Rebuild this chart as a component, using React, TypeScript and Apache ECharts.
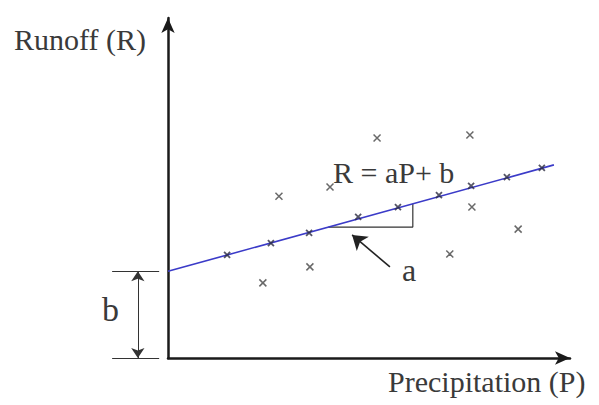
import React, { useEffect, useRef } from "react";
import * as echarts from "echarts";

// Regression line R = aP + b (schematic units)
const slopeA = 0.326;
const interceptB = 2.55;
const lineEndP = 9.6;

// Observations lying on the fitted line
const onLineP = [1.47, 2.56, 3.51, 4.73, 5.72, 6.74, 7.54, 8.43, 9.3];
const onLineR = [3.03, 3.38, 3.68, 4.15, 4.44, 4.79, 5.06, 5.32, 5.59];

// Scattered observations
const scatterP = [5.2, 7.51, 2.76, 4.03, 7.56, 8.71, 7.01, 3.53, 2.36];
const scatterR = [6.47, 6.56, 4.76, 5.03, 4.44, 3.79, 3.06, 2.68, 2.21];

// Slope triangle
const triP = [3.99, 6.09, 6.09];
const triR = [3.85, 3.85, 4.54];

// Pointer arrow to slope label "a"
const arrowAFrom = [5.52, 2.68];
const arrowATo = [4.58, 3.62];

// Dimension for intercept b
const bDimX = [-1.39, -0.22];
const bArrowX = -0.75;

const axisMax = 10;

const X_PATH = "path://M0,0L10,10M10,0L0,10";
const TEXT_COLOR = "#3a3a3a";
const FONT = "'Liberation Serif', 'Times New Roman', serif";

export default function App() {
  const ref = useRef<HTMLDivElement>(null);

  useEffect(() => {
    if (!ref.current) return;
    const chart = echarts.init(ref.current, undefined, { renderer: "svg" });

    const axisLine = {
      show: true,
      symbol: ["none", "arrow"],
      symbolSize: [10, 15],
      lineStyle: { color: "#1a1a1a", width: 2.5 },
    };

    const onLine = onLineP.map((p, i) => [p, onLineR[i]]);
    const scattered = scatterP.map((p, i) => [p, scatterR[i]]);
    const tri = triP.map((p, i) => [p, triR[i]]);

    chart.setOption({
      animation: false,
      backgroundColor: "#ffffff",
      grid: { left: 168, right: 29, top: 18, bottom: 47, containLabel: false },
      xAxis: {
        type: "value",
        min: 0,
        max: axisMax,
        axisLine,
        axisTick: { show: false },
        axisLabel: { show: false },
        splitLine: { show: false },
      },
      yAxis: {
        type: "value",
        min: 0,
        max: axisMax,
        axisLine,
        axisTick: { show: false },
        axisLabel: { show: false },
        splitLine: { show: false },
      },
      series: [
        {
          type: "line",
          data: [
            [0, interceptB],
            [lineEndP, interceptB + slopeA * lineEndP],
          ],
          showSymbol: false,
          lineStyle: { color: "#3b3bc8", width: 1.6 },
          clip: false,
          z: 3,
        },
        {
          type: "line",
          data: tri,
          showSymbol: false,
          lineStyle: { color: "#333", width: 1.2 },
          z: 2,
        },
        {
          type: "scatter",
          data: onLine,
          symbol: X_PATH,
          symbolSize: 6,
          itemStyle: { color: "transparent", borderColor: "#2a2a40", borderWidth: 1.8 },
          z: 4,
        },
        {
          type: "scatter",
          data: scattered,
          symbol: X_PATH,
          symbolSize: 7,
          itemStyle: { color: "transparent", borderColor: "#444", borderWidth: 1.5 },
          z: 4,
        },
        {
          type: "lines",
          coordinateSystem: "cartesian2d",
          clip: false,
          symbol: ["none", "none"],
          lineStyle: { color: "#333", width: 1.2, opacity: 1 },
          data: [
            {
              coords: [
                [bDimX[0], interceptB],
                [bDimX[1], interceptB],
              ],
            },
            {
              coords: [
                [bDimX[0], 0],
                [bDimX[1], 0],
              ],
            },
          ],
        },
        {
          type: "lines",
          coordinateSystem: "cartesian2d",
          clip: false,
          symbol: ["arrow", "arrow"],
          symbolSize: 10,
          lineStyle: { color: "#333", width: 1, opacity: 1 },
          data: [
            {
              coords: [
                [bArrowX, 0],
                [bArrowX, interceptB],
              ],
            },
          ],
        },
        {
          type: "lines",
          coordinateSystem: "cartesian2d",
          clip: false,
          symbol: ["none", "arrow"],
          symbolSize: 14,
          lineStyle: { color: "#222", width: 1.6, opacity: 1 },
          data: [{ coords: [arrowAFrom, arrowATo] }],
        },
      ],
      graphic: [
        {
          type: "text",
          left: 14,
          top: 24,
          style: { text: "Runoff (R)", font: `30px ${FONT}`, fill: TEXT_COLOR },
        },
        {
          type: "text",
          left: 388,
          top: 366,
          style: { text: "Precipitation (P)", font: `30px ${FONT}`, fill: TEXT_COLOR },
        },
        {
          type: "text",
          left: 333,
          top: 157,
          style: { text: "R = aP+ b", font: `30px ${FONT}`, fill: TEXT_COLOR },
        },
        {
          type: "text",
          left: 402,
          top: 254,
          style: { text: "a", font: `32px ${FONT}`, fill: TEXT_COLOR },
        },
        {
          type: "text",
          left: 102,
          top: 292,
          style: { text: "b", font: `34px ${FONT}`, fill: TEXT_COLOR },
        },
      ],
    });

    return () => chart.dispose();
  }, []);

  return <div ref={ref} style={{ width: 599, height: 405, position: "absolute", left: 0, top: 0 }} />;
}
